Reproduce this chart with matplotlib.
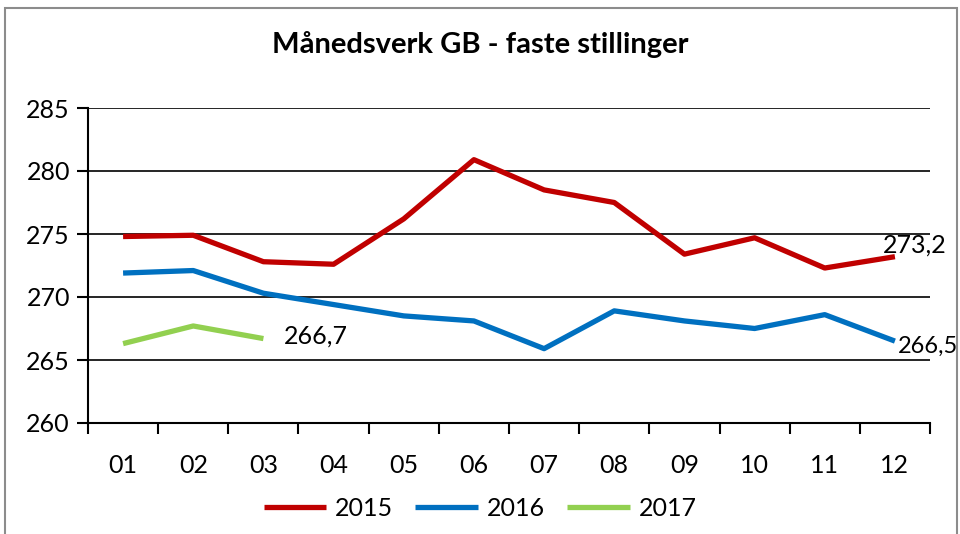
import matplotlib
matplotlib.use("Agg")
import matplotlib.pyplot as plt
from matplotlib.patches import Rectangle

months = ["01", "02", "03", "04", "05", "06", "07", "08", "09", "10", "11", "12"]
v2015 = [274.8, 274.9, 272.8, 272.6, 276.2, 280.9, 278.5, 277.5, 273.4, 274.7, 272.3, 273.2]
v2016 = [271.9, 272.1, 270.3, 269.4, 268.5, 268.1, 265.9, 268.9, 268.1, 267.5, 268.6, 266.5]
v2017 = [266.3, 267.7, 266.7]
title = "Månedsverk GB - faste stillinger"

plt.rcParams['font.family'] = ['Lato', 'DejaVu Sans']

fig = plt.figure(figsize=(9.6, 5.34), dpi=100)
fig.patches.append(Rectangle((5/960, -0.01), (957-5)/960, 1 - 8/534 + 0.01,
                             transform=fig.transFigure, fill=False,
                             edgecolor='#8c8c8c', linewidth=1.5))
ax = fig.add_axes([88/960, 1-423/534, (930-88)/960, (423-108)/534])

x = list(range(len(months)))
l1, = ax.plot(x, v2015, color='#C00000', lw=3.8, label='2015', solid_capstyle='butt')
l2, = ax.plot(x, v2016, color='#0070C0', lw=3.8, label='2016', solid_capstyle='butt')
l3, = ax.plot(x[:len(v2017)], v2017, color='#92D050', lw=3.8, label='2017', solid_capstyle='butt')

ax.set_xlim(-0.5, len(months) - 0.5)
ax.set_ylim(260, 285)
ax.set_yticks([260, 265, 270, 275, 280, 285])
ax.yaxis.grid(True, color='black', lw=1.2)
ax.set_axisbelow(True)
ax.set_xticks(x)
ax.set_xticklabels(months)
ax.set_xticks([i - 0.5 for i in range(len(months) + 1)], minor=True)
ax.tick_params(axis='x', which='major', length=0, pad=22, labelsize=18)
ax.tick_params(axis='x', which='minor', length=8, width=1.5, direction='out')
ax.tick_params(axis='y', length=8, width=1.5, labelsize=18, pad=5)
for s in ['top', 'right']:
    ax.spines[s].set_visible(False)
for s in ['left', 'bottom']:
    ax.spines[s].set_linewidth(1.5)

ax.annotate("273,2", (x[11], v2015[11]), xytext=(-9, 8), textcoords='offset points',
            fontsize=18, ha='left', va='center')
ax.annotate("266,5", (x[11], v2016[11]), xytext=(2, -4), textcoords='offset points',
            fontsize=17, ha='left', va='center')
ax.annotate("266,7", (x[2], v2017[2]), xytext=(15, 2), textcoords='offset points',
            fontsize=18, ha='left', va='center')

fig.text(0.5, 1-45/534, title, ha='center', va='center', fontsize=21, fontweight='bold')
fig.legend(handles=[l1, l2, l3], loc='center', bbox_to_anchor=(0.5, 1-508/534), ncol=3,
           frameon=False, fontsize=18, handlelength=2.5, columnspacing=0.9, handletextpad=0.35)

fig.savefig("out.png", dpi=100)
